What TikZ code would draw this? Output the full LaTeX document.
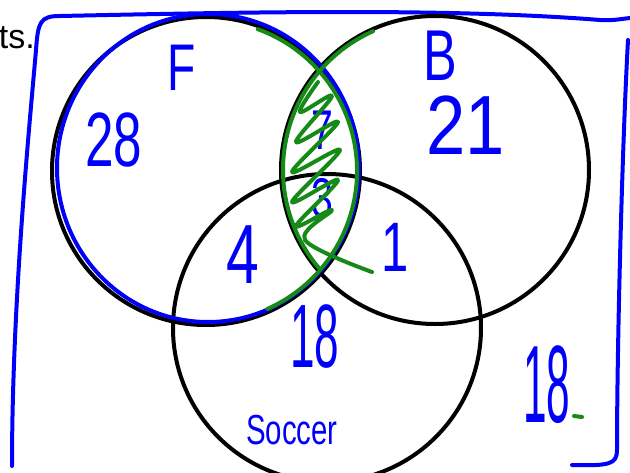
\documentclass[tikz,border=0pt]{standalone}
\usepackage{fontspec}
\setmainfont{Liberation Sans}
\newfontfamily\penfont[FakeStretch=0.7]{Liberation Sans}
\usetikzlibrary{positioning}
\definecolor{PenBlue}{RGB}{0,0,250}
\definecolor{PenGreen}{RGB}{22,138,22}
\tikzset{
  venn/set/.style={
    circle,
    draw=black,
    line width=4pt,
    minimum size=308pt,
    inner sep=0pt
  },
  venn/pen/.style={draw=PenBlue, line width=4pt, line cap=round, line join=round},
  venn/hatch/.style={draw=PenGreen, line width=4pt, line cap=round, line join=round},
  venn/num/.style={text=PenBlue, font=\penfont\fontsize{#1}{#1}\selectfont, inner sep=0pt},
  venn/note/.style={text=black, font=\fontsize{34}{34}\selectfont, inner sep=0pt}
}

\begin{document}
\begin{tikzpicture}[x=1pt,y=-1pt]
  \useasboundingbox (0,0) rectangle (630,472);

  % page text cut at the edge
  \node[venn/note, anchor=base east] (cut) at (35,48) {ts.};

  % universe box, drawn by hand
  \draw[venn/pen] (12,466) .. controls (12,300) and (30,120) .. (36,50)
    .. controls (38,22) and (40,16) .. (60,16)
    .. controls (250,12) and (450,8) .. (600,20)
    .. controls (615,21) and (625,18) .. (632,18);
  \draw[venn/pen] (628,40) .. controls (622,150) and (617,350) .. (617,450)
    .. controls (617,464) and (610,466) .. (572,465);

  % the three sets
  \node[venn/set] (F) at (206,171) {};
  \node[venn/set] (B) at (435,170) {};
  \node[venn/set] (S) at (327,328) {};

  % blue ring round F
  \draw[venn/pen] (208,168) ellipse[x radius=151, y radius=154];

  % counts
  \foreach \name/\txt/\x/\y/\s/\w in {
    lblF/F/182/68/66/1, lblB/B/440/56/72/1,
    onlyF/28/114/140/77/0.95, onlyB/21/466/125/84/1.2,
    FB/7/322/130/56/1, FBS/3/322/198/56/1,
    FS/4/243/255/84/1, BS/1/395/247/70/1,
    onlyS/18/315/337/90/0.7, none/18/547/385/110/0.55}
  {\node[venn/num=\s, xscale=\w, transform shape] (\name) at (\x,\y) {\txt};}
  \node[venn/num=42] (lblS) at (292,430) {Soccer};

  % green shading of F and B
  \draw[venn/hatch] (F.center) ++(-70:151) arc[start angle=-70, end angle=66, radius=151];
  \draw[venn/hatch] (B.center) ++(246:152) arc[start angle=246, end angle=140, radius=152];
  \draw[venn/hatch] plot[smooth, tension=0.6] coordinates {
    (318,82) (300,112) (332,96) (296,142) (338,122) (292,172) (340,150)
    (292,202) (338,180) (296,226) (332,210) (305,240) (372,272)};
  \draw[venn/hatch] ([xshift=27pt, yshift=-31pt]none.center) -- ++(8,1);
\end{tikzpicture}
\end{document}
